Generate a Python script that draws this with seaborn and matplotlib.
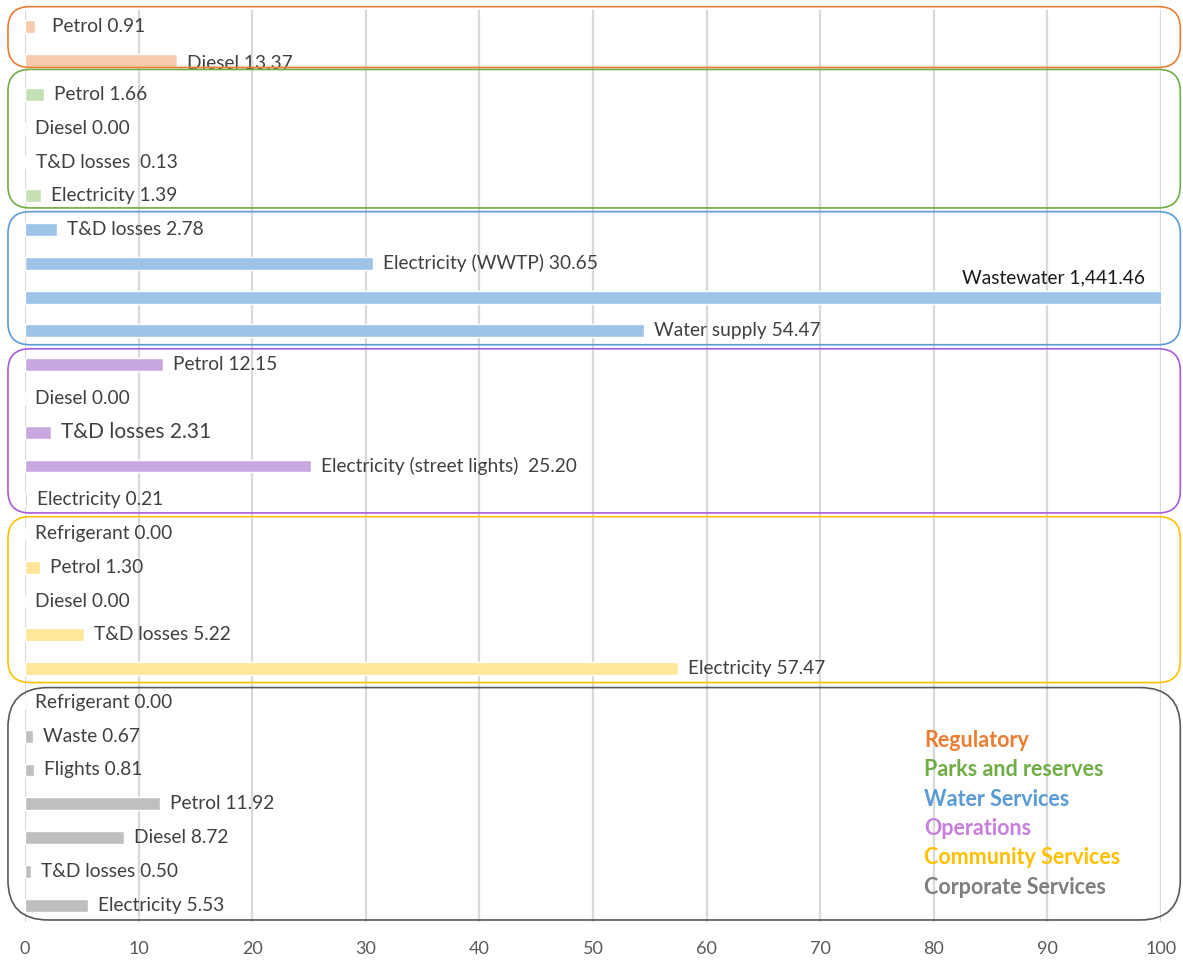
import matplotlib
matplotlib.use("Agg")
import matplotlib.pyplot as plt
from matplotlib.patches import FancyBboxPatch
from matplotlib.transforms import IdentityTransform
import seaborn as sns
import pandas as pd

groups = ["Regulatory", "Parks and reserves", "Water Services", "Operations",
          "Community Services", "Corporate Services"]
regulatory_items = ["Petrol", "Diesel"]
regulatory_vals = [0.91, 13.37]
parks_items = ["Petrol", "Diesel", "T&D losses ", "Electricity"]
parks_vals = [1.66, 0.00, 0.13, 1.39]
water_items = ["T&D losses", "Electricity (WWTP)", "Wastewater", "Water supply"]
water_vals = [2.78, 30.65, 1441.46, 54.47]
operations_items = ["Petrol", "Diesel", "T&D losses", "Electricity (street lights) ", "Electricity"]
operations_vals = [12.15, 0.00, 2.31, 25.20, 0.21]
community_items = ["Refrigerant", "Petrol", "Diesel", "T&D losses", "Electricity"]
community_vals = [0.00, 1.30, 0.00, 5.22, 57.47]
corporate_items = ["Refrigerant", "Waste", "Flights", "Petrol", "Diesel", "T&D losses", "Electricity"]
corporate_vals = [0.00, 0.67, 0.81, 11.92, 8.72, 0.50, 5.53]
x_ticks = [0, 10, 20, 30, 40, 50, 60, 70, 80, 90, 100]

bar_colors = ["#F8CBAD", "#C5E0B4", "#9DC3E6", "#C9A8E2", "#FFE699", "#BFBFBF"]
text_colors = ["#ED7D31", "#70AD47", "#5B9BD5", "#C77FDE", "#FFC000", "#7F7F7F"]
box_colors = ["#ED7D31", "#70AD47", "#5B9BD5", "#A65CD6", "#FFC000", "#595959"]

all_items = [regulatory_items, parks_items, water_items, operations_items,
             community_items, corporate_items]
all_vals = [regulatory_vals, parks_vals, water_vals, operations_vals,
            community_vals, corporate_vals]

rows = []
for g, items, vals in zip(groups, all_items, all_vals):
    for it, v in zip(items, vals):
        rows.append({"group": g, "item": it, "value": v,
                     "row": f"{g}|{it}|{len(rows)}"})
df = pd.DataFrame(rows)

sns.set_theme(style="white")
plt.rcParams["font.family"] = ["Lato", "DejaVu Sans"]

fig = plt.figure(figsize=(11.83, 9.61), dpi=100)
ax = fig.add_axes([25 / 1183, 1 - 922 / 961, (1161 - 25) / 1183, 912 / 961])

sns.barplot(data=df, x="value", y="row", hue="group", hue_order=groups,
            palette=bar_colors, dodge=False, width=0.38, orient="h",
            legend=False, ax=ax, saturation=1)

ax.set_xlim(0, 100)
ax.set_ylim(len(df) - 0.5, -0.5)
ax.set_xticks(x_ticks)
ax.set_xticklabels([str(t) for t in x_ticks], fontsize=13, color="#595959")
ax.tick_params(axis="x", length=0, pad=14)
ax.set_yticks([])
ax.set_xlabel("")
ax.set_ylabel("")
for s in ax.spines.values():
    s.set_visible(False)
ax.grid(axis="x", color="#D9D9D9", linewidth=1.6)
ax.set_axisbelow(True)

# value labels
for i, r in df.iterrows():
    label = f"{r['item']} {r['value']:,.2f}"
    fs = 15 if (r["group"] == "Operations" and r["item"] == "T&D losses") else 13.8
    if r["value"] > 100:
        ax.annotate(label, xy=(100, i), xytext=(-16, 19), textcoords="offset pixels",
                    ha="right", va="center", fontsize=fs, color="#1a1a1a")
    else:
        dx = 17 if (r["group"] == "Regulatory" and r["item"] == "Petrol") else 10
        dy = -3 if (r["group"] == "Regulatory" and r["item"] == "Diesel") else 0
        ax.annotate(label, xy=(r["value"], i), xytext=(dx, dy), textcoords="offset pixels",
                    ha="left", va="center", fontsize=fs, color="#404040",
                    annotation_clip=False)

# group boxes
fig.canvas.draw()
start = 0
box_pad = [(0.6, 0.2), (0.74, 0.36), (0.53, 0.41), (0.47, 0.39), (0.5, 0.41), (0.44, 0.44)]
for gi, items in enumerate(all_items):
    n = len(items)
    top_y = start - box_pad[gi][0]
    bot_y = start + n - 1 + box_pad[gi][1]
    (x0, y0) = ax.transData.transform((-1.5, bot_y))
    (x1, y1) = ax.transData.transform((101.7, top_y))
    rad = 40 if gi == 5 else 22
    rad = min(rad, (y1 - y0) / 2)
    p = FancyBboxPatch((x0, y0), x1 - x0, y1 - y0,
                       boxstyle=f"round,pad=0,rounding_size={rad}",
                       transform=IdentityTransform(), fill=False,
                       edgecolor=box_colors[gi], linewidth=1.2, zorder=5)
    fig.add_artist(p)
    start += n

# group legend
for gi, g in enumerate(groups):
    ax.text(79.15, 21.12 + gi * 0.87, g, color=text_colors[gi], fontsize=15.5,
            fontweight="bold", ha="left", va="center")

fig.savefig("out.png", dpi=100)
